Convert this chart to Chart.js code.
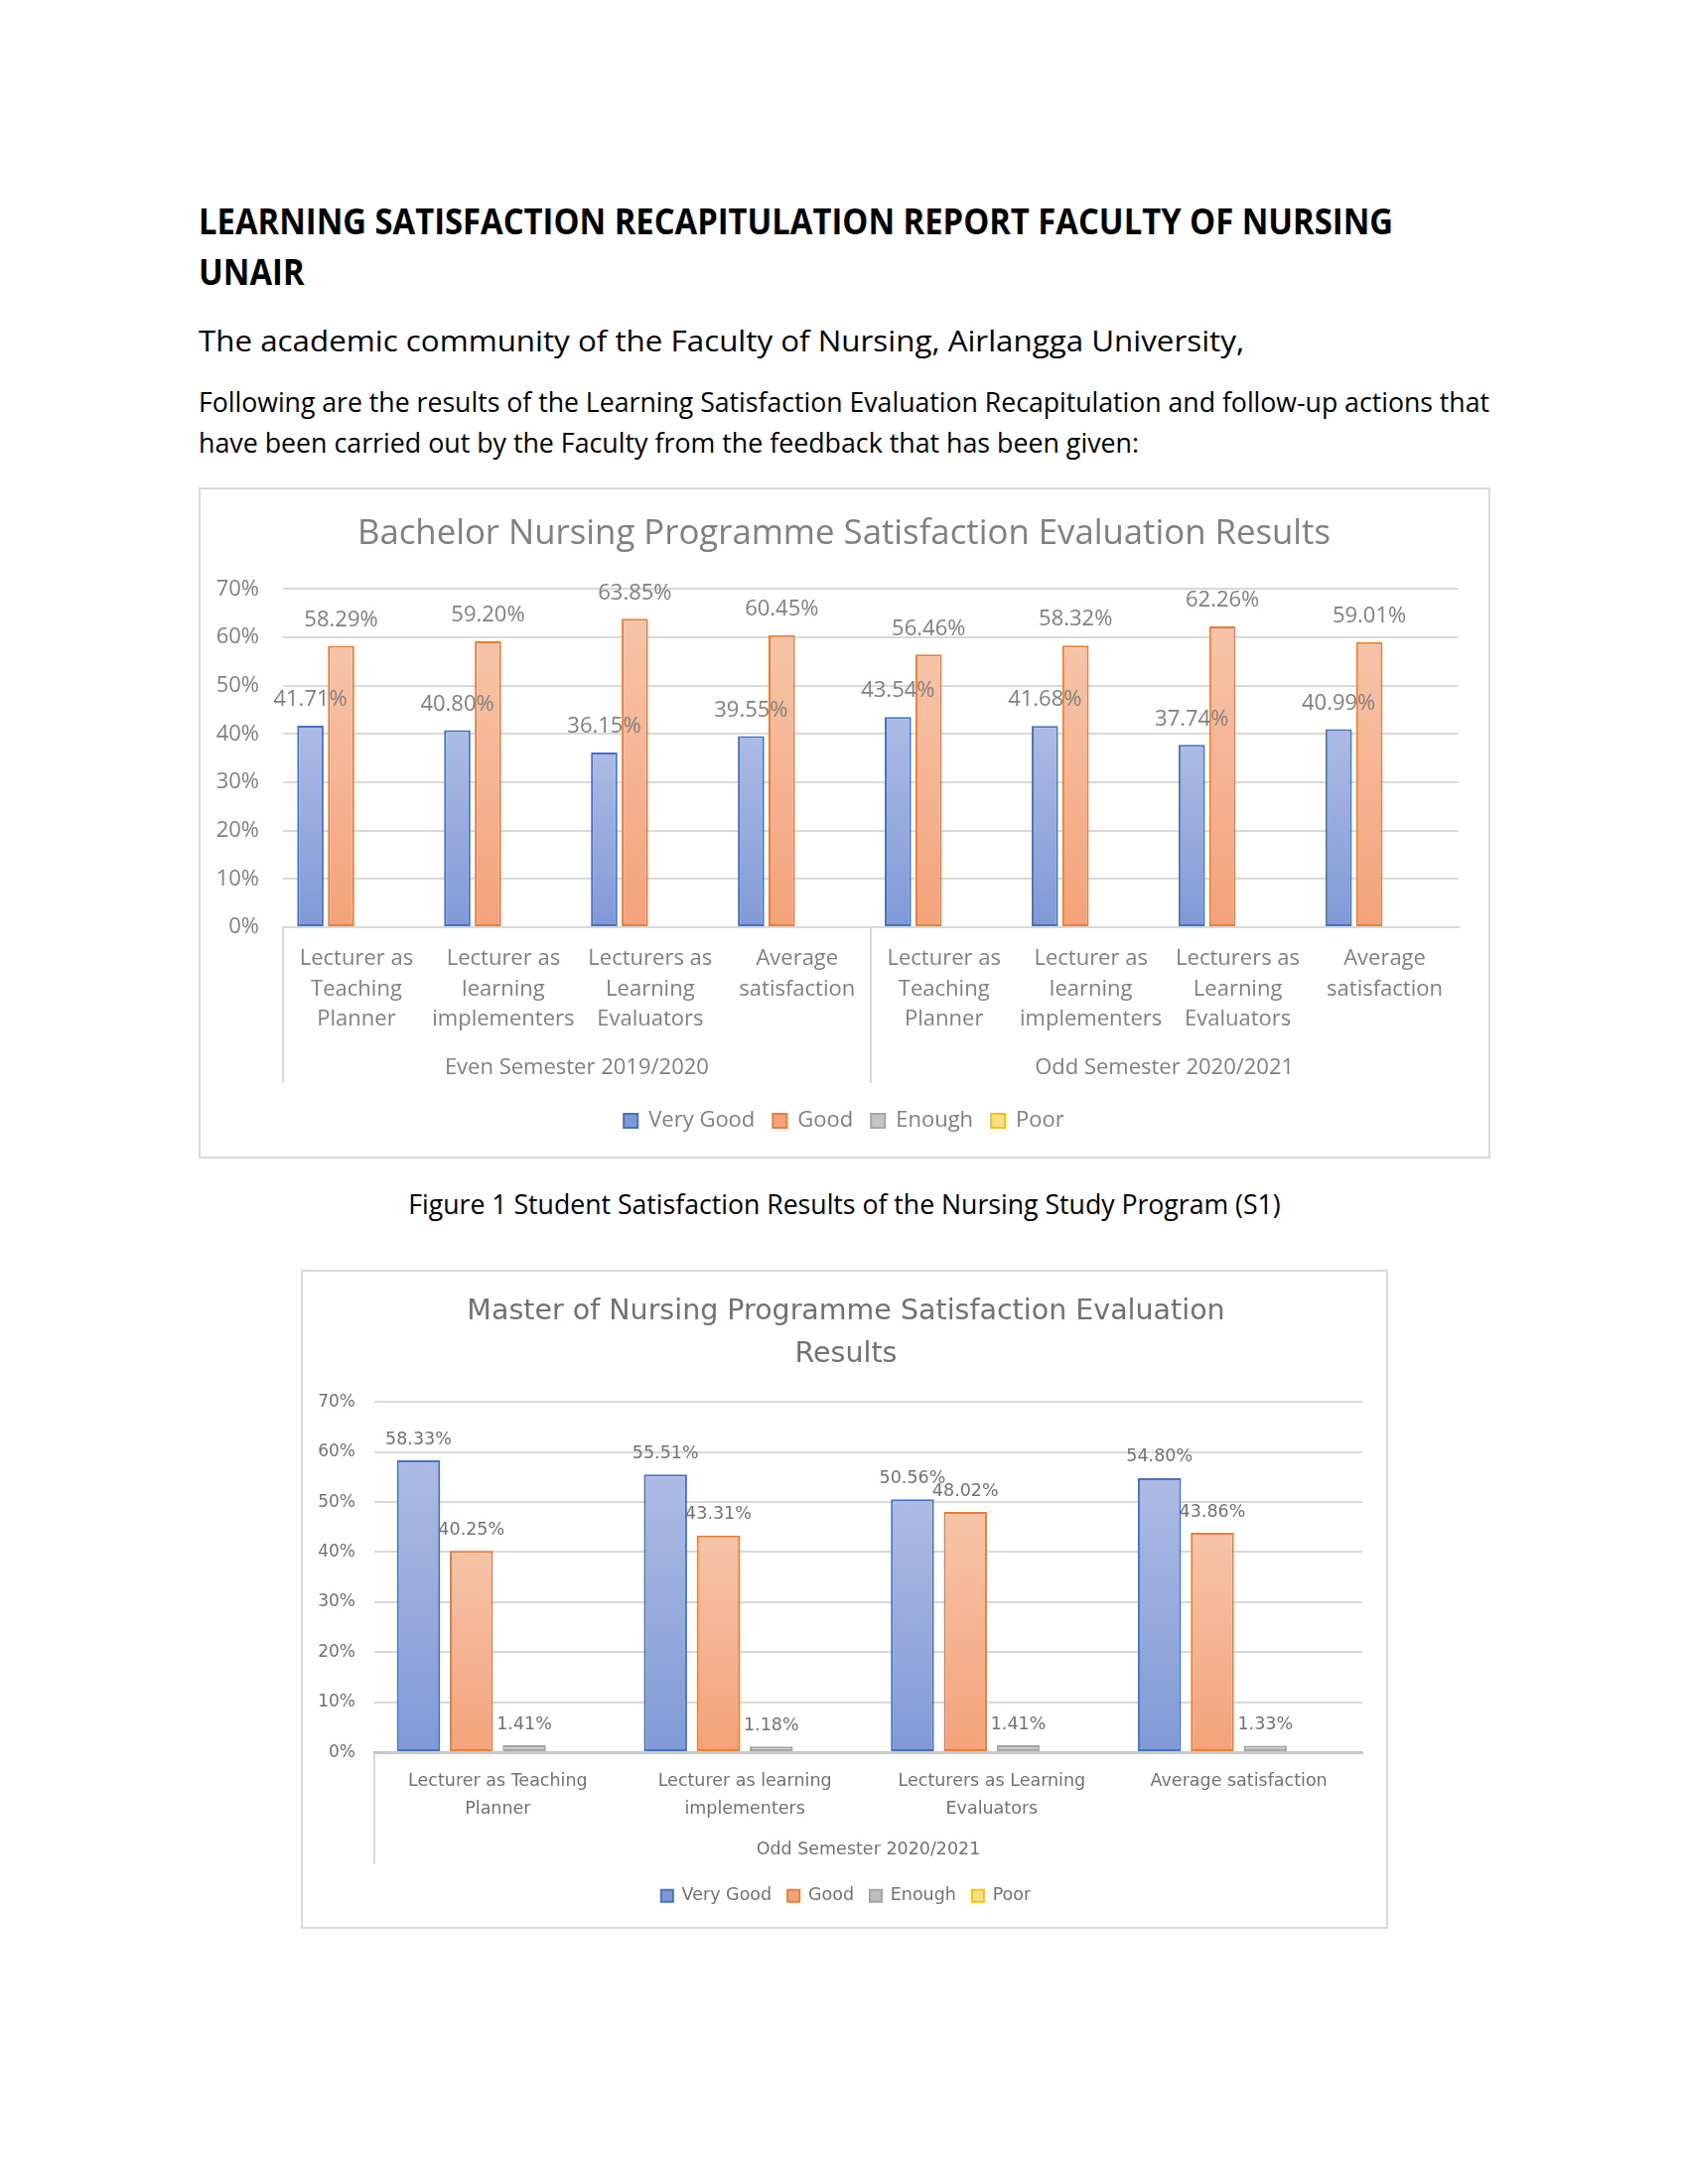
<!DOCTYPE html>
<html>
<head>
<meta charset="utf-8">
<script src="https://cdn.jsdelivr.net/npm/chart.js@4.4.1/dist/chart.umd.min.js"></script>
<style>
  html, body { margin: 0; padding: 0; background: #ffffff; }
  #page { position: relative; width: 1700px; height: 2200px; overflow: hidden; background: #fff; }
  .line { position: absolute; white-space: nowrap; font-family: 'Open Sans', sans-serif; color: #000; line-height: 1; display: inline-block; }
  .frame { position: absolute; border: 2px solid #d9d9d9; box-sizing: border-box; }
  canvas { position: absolute; }
</style>
</head>
<body>
<div id="page">
  <div class="line" data-grp="h" data-base="236.5" data-left="200" data-w="1203" style="font-size:36px;font-weight:700;">LEARNING SATISFACTION RECAPITULATION REPORT FACULTY OF NURSING</div>
  <div class="line" data-grp="h" data-base="287.5" data-left="200" style="font-size:36px;font-weight:700;">UNAIR</div>
  <div class="line" data-grp="b1" data-base="354" data-left="200" data-w="1053" style="font-size:28.5px;">The academic community of the Faculty of Nursing, Airlangga University,</div>
  <div class="line" data-grp="b2" data-base="415" data-left="200" data-w="1300" style="font-size:27.5px;">Following are the results of the Learning Satisfaction Evaluation Recapitulation and follow-up actions that</div>
  <div class="line" data-grp="b3" data-base="456" data-left="200" data-w="947" style="font-size:27.5px;">have been carried out by the Faculty from the feedback that has been given:</div>
  <div class="line" data-grp="b2" data-base="1223" data-center="850" style="font-size:27.5px;">Figure 1 Student Satisfaction Results of the Nursing Study Program (S1)</div>

  <div class="frame" style="left:200px;top:491px;width:1301px;height:676px;"></div>
  <canvas id="c1" width="1320" height="676" style="left:190px;top:491px;"></canvas>

  <div class="frame" style="left:303px;top:1279px;width:1095px;height:664px;"></div>
  <canvas id="c2" width="1100" height="664" style="left:302px;top:1279px;"></canvas>
</div>
<script>
// ---------------- DATA ----------------
const bachelorTitle = 'Bachelor Nursing Programme Satisfaction Evaluation Results';
const bachelorCategories = [
  ['Lecturer as', 'Teaching', 'Planner'],
  ['Lecturer as', 'learning', 'implementers'],
  ['Lecturers as', 'Learning', 'Evaluators'],
  ['Average', 'satisfaction'],
  ['Lecturer as', 'Teaching', 'Planner'],
  ['Lecturer as', 'learning', 'implementers'],
  ['Lecturers as', 'Learning', 'Evaluators'],
  ['Average', 'satisfaction']
];
const bachelorGroups = ['Even Semester 2019/2020', 'Odd Semester 2020/2021'];
const bachelorVeryGood = [41.71, 40.80, 36.15, 39.55, 43.54, 41.68, 37.74, 40.99];
const bachelorGood     = [58.29, 59.20, 63.85, 60.45, 56.46, 58.32, 62.26, 59.01];
const bachelorEnough   = [null, null, null, null, null, null, null, null];
const bachelorPoor     = [null, null, null, null, null, null, null, null];

const masterTitle = ['Master of Nursing Programme Satisfaction Evaluation', 'Results'];
const masterCategories = [
  ['Lecturer as Teaching', 'Planner'],
  ['Lecturer as learning', 'implementers'],
  ['Lecturers as Learning', 'Evaluators'],
  ['Average satisfaction']
];
const masterGroups = ['Odd Semester 2020/2021'];
const masterVeryGood = [58.33, 55.51, 50.56, 54.80];
const masterGood     = [40.25, 43.31, 48.02, 43.86];
const masterEnough   = [1.41, 1.18, 1.41, 1.33];
const masterPoor     = [null, null, null, null];

const seriesNames = ['Very Good', 'Good', 'Enough', 'Poor'];
const yMin = 0, yMax = 70, yStep = 10;

// ---------------- page text fitting ----------------
(function fitText() {
  const lines = Array.from(document.querySelectorAll('.line'));
  const factors = {};
  lines.forEach(el => {
    if (el.dataset.w) {
      factors[el.dataset.grp] = parseFloat(el.dataset.w) / el.getBoundingClientRect().width;
    }
  });
  lines.forEach(el => {
    const fs = parseFloat(el.style.fontSize);
    el.style.top = (parseFloat(el.dataset.base) - 0.888 * fs) + 'px';
    const w = el.getBoundingClientRect().width;
    const s = factors[el.dataset.grp] || 1;
    if (el.dataset.center) {
      el.style.left = (parseFloat(el.dataset.center) - w / 2) + 'px';
      el.style.transformOrigin = 'center center';
    } else {
      el.style.left = el.dataset.left + 'px';
      el.style.transformOrigin = 'left center';
    }
    el.style.transform = 'scaleX(' + s.toFixed(4) + ')';
  });
})();

// ---------------- helpers ----------------
function barFill(top, bottom, flat) {
  return (c) => {
    const chart = c.chart;
    const y = chart.scales && chart.scales.y;
    if (c.type !== 'data' || !y || c.raw == null) return flat;
    const y1 = y.getPixelForValue(c.raw), y0 = y.getPixelForValue(0);
    if (!isFinite(y1) || !isFinite(y0) || Math.abs(y1 - y0) < 0.5) return flat;
    const g = chart.ctx.createLinearGradient(0, y1, 0, y0);
    g.addColorStop(0, top);
    g.addColorStop(1, bottom);
    return g;
  };
}
const seriesStyles = [
  { top: '#adbbe4', bottom: '#8099d6', flat: '#93a8dc', border: '#4472c4' },
  { top: '#f7c4a9', bottom: '#f4a27a', flat: '#f5b08e', border: '#ed7d31' },
  { top: '#d0d0d0', bottom: '#bdbdbd', flat: '#c4c4c4', border: '#a5a5a5' },
  { top: '#ffe8a3', bottom: '#ffd966', flat: '#ffe08a', border: '#ffc000' }
];
function makeDatasets(arrays, cp, bp, bw) {
  return arrays.map((data, i) => ({
    label: seriesNames[i],
    data: data,
    backgroundColor: barFill(seriesStyles[i].top, seriesStyles[i].bottom, seriesStyles[i].flat),
    borderColor: seriesStyles[i].border,
    borderWidth: bw,
    borderSkipped: false,
    categoryPercentage: cp,
    barPercentage: bp
  }));
}

const valueLabels = {
  id: 'valueLabels',
  afterDatasetsDraw(chart, args, opts) {
    const ctx = chart.ctx;
    ctx.save();
    ctx.font = (opts.weight || 'normal') + ' ' + opts.size + 'px ' + opts.family;
    ctx.fillStyle = opts.color;
    ctx.textAlign = 'center';
    ctx.textBaseline = 'middle';
    chart.data.datasets.forEach((ds, i) => {
      const meta = chart.getDatasetMeta(i);
      meta.data.forEach((bar, j) => {
        const v = ds.data[j];
        if (v == null) return;
        ctx.fillText(v.toFixed(2) + '%', bar.x, bar.y - opts.offset);
      });
    });
    ctx.restore();
  }
};

function sepColor(color) {
  return (c) => (c.index % 4 === 0) ? color : 'rgba(0,0,0,0)';
}

function buildChart(canvasId, cfg) {
  const F = cfg.family;
  return new Chart(document.getElementById(canvasId), {
    type: 'bar',
    data: { labels: cfg.categories, datasets: makeDatasets(cfg.series, cfg.cp, cfg.bp, cfg.bw) },
    plugins: [valueLabels],
    options: {
      responsive: false,
      animation: false,
      devicePixelRatio: 1,
      layout: { padding: { left: 0, right: 0, top: 0, bottom: cfg.padBottom } },
      scales: {
        x: {
          type: 'category',
          position: 'bottom',
          weight: 0,
          offset: true,
          grid: { display: true, offset: true, drawOnChartArea: false, drawTicks: true,
                  tickLength: cfg.sepLen, color: sepColor(cfg.gridColor), lineWidth: 2 },
          border: { display: true, color: cfg.axisColor, width: cfg.axisWidth },
          ticks: { autoSkip: false, maxRotation: 0, minRotation: 0, color: cfg.textColor,
                   padding: cfg.catPad, font: { family: F, size: cfg.catSize, lineHeight: cfg.catLH } },
          afterFit: (s) => { s.height = cfg.hx1; }
        },
        x2: {
          type: 'category',
          axis: 'x',
          position: 'bottom',
          weight: 1,
          labels: cfg.groups,
          offset: true,
          grid: { display: false, drawTicks: false },
          border: { display: false },
          ticks: { autoSkip: false, maxRotation: 0, color: cfg.textColor, padding: cfg.grpPad,
                   font: { family: F, size: cfg.grpSize, lineHeight: 1.2 } },
          afterFit: (s) => { s.height = cfg.hx2; }
        },
        y: {
          position: 'left',
          min: yMin, max: yMax,
          grid: { color: cfg.gridColor, lineWidth: 2, drawTicks: false },
          border: { display: false },
          ticks: { stepSize: yStep, color: cfg.textColor, padding: cfg.yPad,
                   font: { family: F, size: cfg.ySize },
                   callback: (v) => v + '%' },
          afterFit: (s) => { s.width = cfg.yWidth; }
        },
        yRight: {
          type: 'linear',
          position: 'right',
          min: yMin, max: yMax,
          grid: { display: false, drawOnChartArea: false, drawTicks: false },
          border: { display: false },
          ticks: { display: false },
          afterFit: (s) => { s.width = cfg.rightWidth; }
        }
      },
      plugins: {
        title: { display: true, text: cfg.title, color: cfg.textColor,
                 font: { family: F, size: cfg.titleSize, weight: 'normal', lineHeight: cfg.titleLH },
                 padding: { top: cfg.titlePadTop, bottom: cfg.titlePadBottom } },
        legend: { display: true, position: 'bottom',
                  labels: { color: cfg.textColor, boxWidth: cfg.box, boxHeight: cfg.box,
                            padding: cfg.legendPad, font: { family: F, size: cfg.legendSize } } },
        tooltip: { enabled: false },
        valueLabels: { family: F, size: cfg.labelSize, color: cfg.textColor, offset: cfg.labelOffset }
      }
    }
  });
}

buildChart('c1', {
  family: "'Open Sans'",
  categories: bachelorCategories,
  groups: bachelorGroups,
  series: [bachelorVeryGood, bachelorGood, bachelorEnough, bachelorPoor],
  title: bachelorTitle,
  cp: 0.836, bp: 0.861, bw: 2,
  padBottom: 17,
  sepLen: 157, catPad: -140.5, catSize: 22, catLH: 1.39, hx1: 110,
  grpPad: 18.8, grpSize: 22, hx2: 56,
  yWidth: 95, rightWidth: 41.5, yPad: 24, ySize: 22,
  titleSize: 34.75, titleLH: 1.2, titlePadTop: 26.1, titlePadBottom: 34.6,
  box: 14, legendPad: 18, legendSize: 22,
  labelSize: 22, labelOffset: 26,
  textColor: '#808080', gridColor: '#d9d9d9', axisColor: '#d9d9d9', axisWidth: 2
});

buildChart('c2', {
  family: "'DejaVu Sans'",
  categories: masterCategories,
  groups: masterGroups,
  series: [masterVeryGood, masterGood, masterEnough, masterPoor],
  title: masterTitle,
  cp: 0.857, bp: 0.816, bw: 2,
  padBottom: 14.5,
  sepLen: 112.4, catPad: -97, catSize: 17.5, catLH: 1.6, hx1: 75,
  grpPad: 12.9, grpSize: 17.5, hx2: 44.9,
  yWidth: 75, rightWidth: 30, yPad: 19, ySize: 17,
  titleSize: 28.5, titleLH: 1.51, titlePadTop: 21.5, titlePadBottom: 25.7,
  box: 12, legendPad: 16, legendSize: 17.5,
  labelSize: 17.5, labelOffset: 21,
  textColor: '#727272', gridColor: '#d9d9d9', axisColor: '#c8c8c8', axisWidth: 3
});
</script>
</body>
</html>
